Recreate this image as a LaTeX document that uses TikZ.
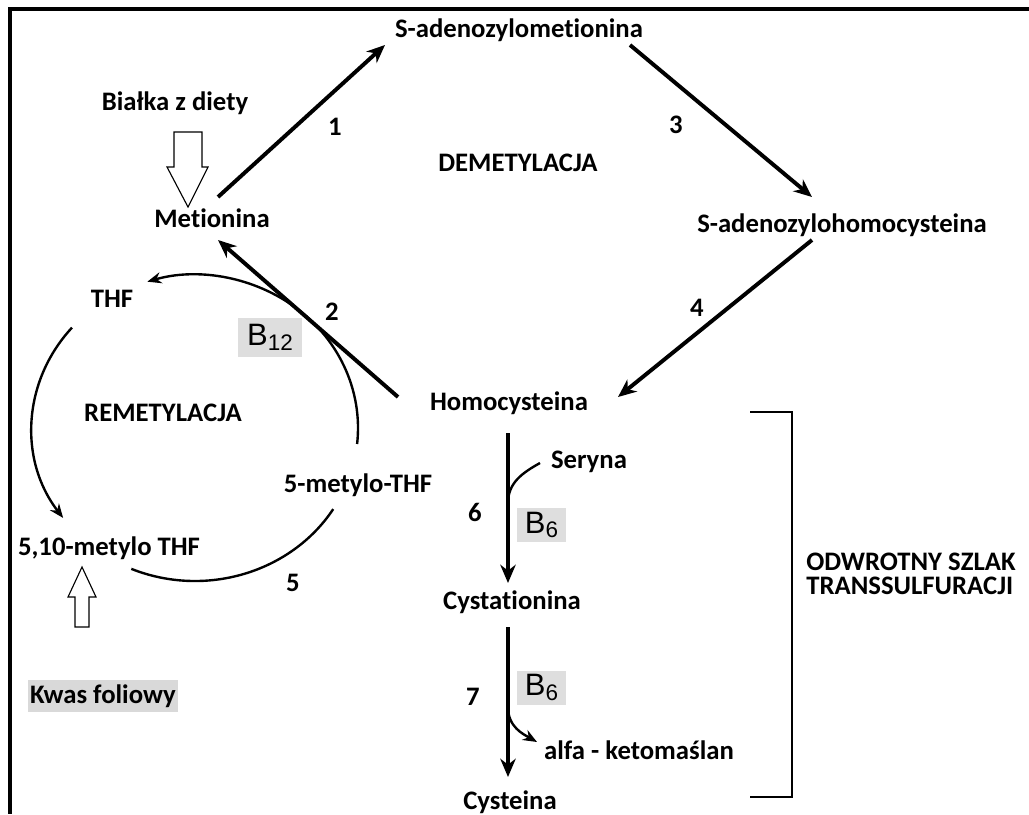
\documentclass[tikz,border=0pt]{standalone}
\usepackage{fontspec}
\setmainfont{Carlito}[Ligatures=NoCommon]
\newfontfamily\arialfont{Liberation Sans}
\usetikzlibrary{arrows.meta}

\tikzset{
  lbl/.style={font=\bfseries\fontsize{19}{17.5}\selectfont, inner sep=0pt},
  arr/.style={line width=2.8pt, -{Stealth[length=13pt,width=11pt]}},
  cyc/.style={line width=1.7pt},
  cycarr/.style={cyc, -{Stealth[length=10pt,width=8pt]}},
  vit/.style={fill=black!13, font=\arialfont\fontsize{22}{24}\selectfont, inner sep=0pt},
  hollow/.style={line width=0.8pt, fill=white},
}
\newcommand\vitb[1]{B\raisebox{-0.3ex}{\fontsize{16}{16}\selectfont #1}}

\begin{document}
\begin{tikzpicture}[x=0.025cm, y=-0.025cm]
\useasboundingbox (0,0) rectangle (1029,814);
\draw[line width=2.2pt] (1029,9) -- (10,9) -- (10,814);

\node[lbl] (sam) at (519,30) {S-adenozylometionina};
\node[lbl] (diet) at (175,103) {Białka z diety};
\node[lbl] (met) at (212,218) {Metionina};
\node[lbl] (dem) at (518,163) {DEMETYLACJA};
\node[lbl] (sah) at (842,225) {S-adenozylohomocysteina};
\node[lbl] (hcy) at (509,403) {Homocysteina};
\node[lbl] (thf) at (112,299) {THF};
\node[lbl] (rem) at (163,413) {REMETYLACJA};
\node[lbl] (mthf) at (358,485) {5-metylo-THF};
\node[lbl] (mlthf) at (109,548) {5,10-metylo THF};
\node[lbl, fill=black!15, inner xsep=1.5pt, minimum height=0.8cm] (kwas) at (103,696) {Kwas foliowy};
\node[lbl] (ser) at (589,462) {Seryna};
\node[lbl] (cyst) at (512,602) {Cystationina};
\node[lbl] (alfa) at (639,750) {alfa - ketomaślan};
\node[lbl] (cys) at (510,802) {Cysteina};
\node[lbl, align=left, anchor=west] (odw) at (806,574) {ODWROTNY SZLAK\\TRANSSULFURACJI};

\node[lbl] (n1) at (335,127) {1};
\node[lbl] (n2) at (332,312) {2};
\node[lbl] (n3) at (676,125) {3};
\node[lbl] (n4) at (697,308) {4};
\node[lbl] (n5) at (293,583) {5};
\node[lbl] (n6) at (475,512) {6};
\node[lbl] (n7) at (473,697) {7};

\node[vit, minimum width=1.6cm, minimum height=0.975cm] (b12) at (270,337.5) {\vitb{12}};
\node[vit, minimum width=1.225cm, minimum height=0.85cm] (b6a) at (541.5,525) {\vitb{6}};
\node[vit, minimum width=1.225cm, minimum height=0.85cm] (b6b) at (541.5,687.5) {\vitb{6}};

\draw[arr] ([shift={(6,-21)}]met.center) -- ([shift={(-134,15)}]sam.center);
\draw[arr] ([shift={(111,15)}]sam.center) -- ([shift={(-30,-28)}]sah.center);
\draw[arr] ([shift={(-30,15)}]sah.center) -- ([shift={(109,-6)}]hcy.center);
\draw[arr] ([shift={(-111,-6)}]hcy.center) -- ([shift={(6,22)}]met.center);
\draw[arr] ([shift={(-1,30)}]hcy.center) -- ([shift={(-4,-19)}]cyst.center);
\draw[arr] ([shift={(-4,25)}]cyst.center) -- ([shift={(-2,-25)}]cys.center);

\coordinate (j6) at ([shift={(-1,100)}]hcy.center);
\coordinate (j7) at ([shift={(-4,105)}]cyst.center);
\draw[cyc] ([shift={(-49,1)}]ser.center) .. controls +(-18,10) and +(0,-20) .. (j6);
\draw[cycarr] (j7) .. controls +(0,20) and +(-14,-8) .. ([shift={(-102,-8)}]alfa.center);

% remetylacja cycle
\coordinate (ctr) at (195,428);
\draw[cycarr] (ctr) ++(6:163 and 153) arc[start angle=6, end angle=-107, x radius=163, y radius=153];
\draw[cycarr] (ctr) ++(221:163 and 153) arc[start angle=221, end angle=144, x radius=163, y radius=153];
\draw[cyc] (ctr) ++(113:163 and 153) arc[start angle=113, end angle=32, x radius=163, y radius=153];

\coordinate (dtip) at ([shift={(-24,-11)}]met.center);
\draw[hollow] (dtip) -- +(-21,-40) -- +(-14,-40) -- +(-14,-75) -- +(14,-75) -- +(14,-40) -- +(20,-40) -- cycle;
\coordinate (ftip) at ([shift={(-27,19)}]mlthf.center);
\draw[hollow] (ftip) -- +(-14,30) -- +(-7,30) -- +(-7,60) -- +(7,60) -- +(7,30) -- +(14,30) -- cycle;

\draw[line width=2pt] (750,412) -- (792,412) -- (792,797) -- (750,797);
\end{tikzpicture}
\end{document}
